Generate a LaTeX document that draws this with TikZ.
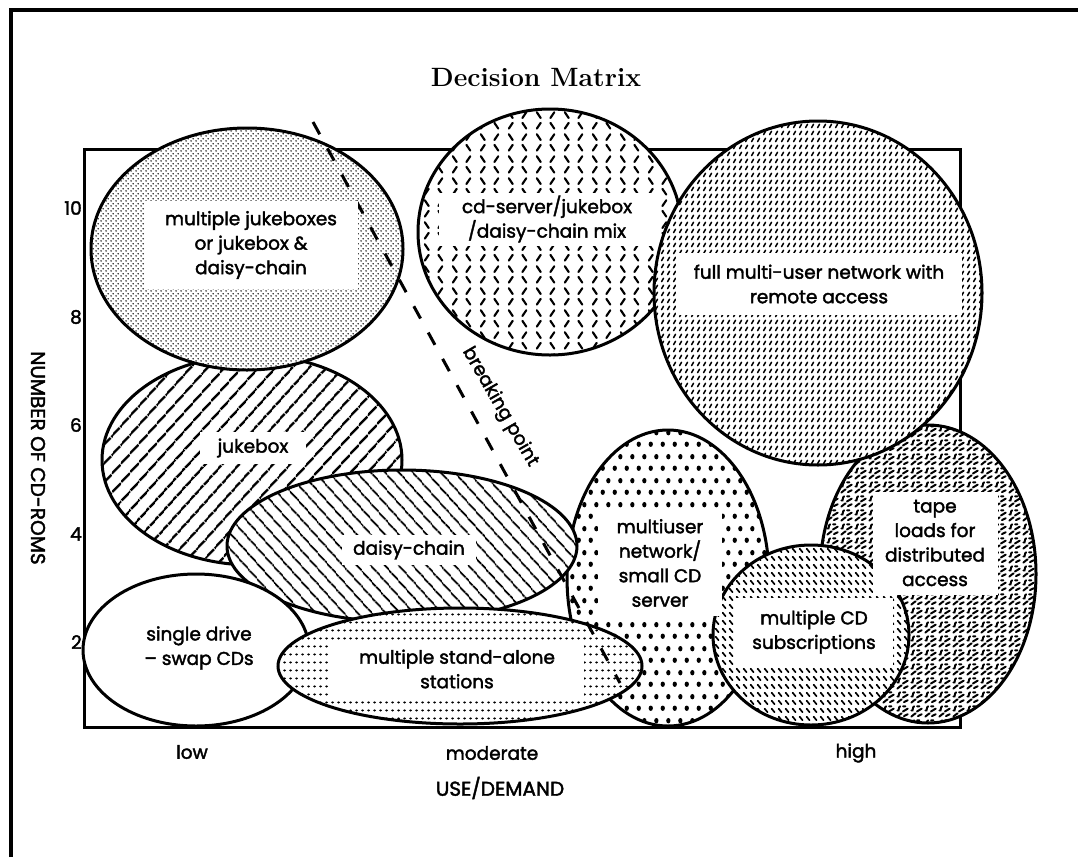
\documentclass[tikz,border=0pt]{standalone}
\usepackage{fontspec}
\newfontfamily\labfont{Poppins}[FakeBold=2]
\usetikzlibrary{patterns,patterns.meta,shapes.geometric}
\newcommand\lab{\labfont\fontsize{18.5}{24.5}\selectfont}
\newcommand\axlab{\labfont\fontsize{20}{24}\selectfont}

\pgfdeclarepatternformonly{stipple}{\pgfpointorigin}{\pgfpoint{5pt}{5pt}}{\pgfpoint{5pt}{5pt}}{%
  \pgfpathcircle{\pgfpoint{1.25pt}{1.25pt}}{0.9pt}%
  \pgfpathcircle{\pgfpoint{3.75pt}{3.75pt}}{0.9pt}%
  \pgfusepath{fill}}
\pgfdeclarepatternformonly{chevron}{\pgfpointorigin}{\pgfpoint{28pt}{22pt}}{\pgfpoint{28pt}{22pt}}{%
  \pgfsetlinewidth{2.2pt}\pgfsetroundcap
  \pgfpathmoveto{\pgfpoint{5pt}{2.5pt}}\pgfpathlineto{\pgfpoint{9pt}{8.5pt}}%
  \pgfpathmoveto{\pgfpoint{19pt}{8.5pt}}\pgfpathlineto{\pgfpoint{23pt}{2.5pt}}%
  \pgfpathmoveto{\pgfpoint{5pt}{19.5pt}}\pgfpathlineto{\pgfpoint{9pt}{13.5pt}}%
  \pgfpathmoveto{\pgfpoint{19pt}{13.5pt}}\pgfpathlineto{\pgfpoint{23pt}{19.5pt}}%
  \pgfusepath{stroke}}
\pgfdeclarepatternformonly{slashes}{\pgfpointorigin}{\pgfpoint{6pt}{7pt}}{\pgfpoint{6pt}{7pt}}{%
  \pgfsetlinewidth{1.75pt}\pgfsetroundcap
  \pgfpathmoveto{\pgfpoint{1.9pt}{1.6pt}}\pgfpathlineto{\pgfpoint{4.1pt}{5.4pt}}%
  \pgfusepath{stroke}}
\pgfdeclarepatternformonly{backslashes}{\pgfpointorigin}{\pgfpoint{7pt}{8pt}}{\pgfpoint{7pt}{8pt}}{%
  \pgfsetlinewidth{1.9pt}\pgfsetroundcap
  \pgfpathmoveto{\pgfpoint{1.8pt}{6pt}}\pgfpathlineto{\pgfpoint{5.2pt}{2pt}}%
  \pgfusepath{stroke}}
\pgfdeclarepatternformonly{rowdots}{\pgfpointorigin}{\pgfpoint{6pt}{8pt}}{\pgfpoint{6pt}{8pt}}{%
  \pgfpathellipse{\pgfpoint{3pt}{4pt}}{\pgfpoint{1.7pt}{0pt}}{\pgfpoint{0pt}{1.3pt}}\pgfusepath{fill}}
\pgfdeclarepatternformonly{bigdots}{\pgfpointorigin}{\pgfpoint{12pt}{24pt}}{\pgfpoint{12pt}{24pt}}{%
  \pgfpathellipse{\pgfpoint{3pt}{6pt}}{\pgfpoint{2.3pt}{0pt}}{\pgfpoint{0pt}{2.8pt}}%
  \pgfpathellipse{\pgfpoint{9pt}{18pt}}{\pgfpoint{2.3pt}{0pt}}{\pgfpoint{0pt}{2.8pt}}%
  \pgfusepath{fill}}
\pgfdeclarepatternformonly{worms}{\pgfpointorigin}{\pgfpoint{14pt}{14pt}}{\pgfpoint{14pt}{14pt}}{%
  \pgfsetlinewidth{2.1pt}\pgfsetroundcap
  \pgfpathmoveto{\pgfpoint{1.5pt}{1.5pt}}\pgfpathcurveto{\pgfpoint{3pt}{5pt}}{\pgfpoint{4.5pt}{2pt}}{\pgfpoint{6pt}{5pt}}%
  \pgfpathmoveto{\pgfpoint{8.5pt}{2pt}}\pgfpathcurveto{\pgfpoint{10.5pt}{1.2pt}}{\pgfpoint{10.5pt}{5pt}}{\pgfpoint{12.5pt}{4pt}}%
  \pgfpathmoveto{\pgfpoint{1.5pt}{8pt}}\pgfpathcurveto{\pgfpoint{4pt}{7pt}}{\pgfpoint{2pt}{11.5pt}}{\pgfpoint{4.5pt}{12.5pt}}%
  \pgfpathmoveto{\pgfpoint{7.5pt}{7pt}}\pgfpathcurveto{\pgfpoint{9pt}{10pt}}{\pgfpoint{11pt}{7pt}}{\pgfpoint{12.5pt}{10pt}}%
  \pgfpathmoveto{\pgfpoint{7.5pt}{12.5pt}}\pgfpathlineto{\pgfpoint{10pt}{12.5pt}}%
  \pgfusepath{stroke}}

\tikzset{
  blob/.style={ellipse, draw, line width=3pt, inner sep=0pt, outer sep=0pt, preaction={fill=white}},
  labbox/.style={fill=white, inner sep=0pt, align=center, font=\lab},
  lab/.style={font=\lab, align=center, inner sep=0pt},
  axis/.style={font=\axlab, align=center, inner sep=0pt},
  tick/.style={font=\lab, anchor=east, inner sep=0pt},
}

\begin{document}
\begin{tikzpicture}[x=1pt,y=-1pt]
\useasboundingbox (0,0) rectangle (1078,857);
% page frame
\draw[line width=4pt] (11,857) -- (11,10) -- (1078,10);
% title
\node[font=\bfseries\fontsize{26.5}{30}\selectfont, inner sep=0pt] (title) at (536,77) {Decision Matrix};
% plot area
\node[draw, line width=3pt, minimum width=876pt, minimum height=578pt, inner sep=0pt] (plot) at (522,438) {};
% axis labels
\node[tick] (t10) at (82,208) {10};
\node[tick] (t8) at (82,317) {8};
\node[tick] (t6) at (82,425) {6};
\node[tick] (t4) at (82,534) {4};
\node[tick] (t2) at (82,642) {2};
\node[axis, rotate=-90] (ylab) at (38,458) {NUMBER OF CD-ROMS};
\node[lab] (xlow) at (192,752) {low};
\node[lab] (xmod) at (492,753) {moderate};
\node[lab] (xhigh) at (856,753) {high};
\node[axis] (xlab) at (500,788) {USE/DEMAND};
% ellipses
\node[blob, pattern={Lines[angle=48,distance=13pt,line width=2.4pt]}, minimum width=300pt, minimum height=210pt] (jb) at (252,460) {};
\node[blob, pattern=stipple, minimum width=312pt, minimum height=242pt] (mj) at (247,249) {};
\node[blob, pattern=chevron, minimum width=264pt, minimum height=246pt] (cd) at (550,232) {};
\node[blob, pattern=worms, minimum width=216pt, minimum height=298pt] (tp) at (928,574) {};
\node[blob, pattern=slashes, minimum width=328pt, minimum height=344pt] (fn) at (818,293) {};
\node[blob, pattern=bigdots, minimum width=202pt, minimum height=296pt] (mu) at (668,578) {};
\node[blob, pattern={Lines[angle=-48,distance=10.5pt,line width=2pt]}, minimum width=350pt, minimum height=152pt] (dc) at (402,546) {};
\node[blob, minimum width=226pt, minimum height=152pt] (sd) at (196,650) {};
\node[blob, pattern=rowdots, minimum width=364pt, minimum height=116pt] (sa) at (460,666) {};
\node[blob, pattern=backslashes, minimum width=196pt, minimum height=180pt] (cs) at (811,635) {};
% breaking point
\coordinate (bp1) at (313,122);
\coordinate (bp2) at (620,683);
\draw[line width=3pt, dash pattern=on 14pt off 16pt] (bp1) -- (bp2);
\node[lab, rotate=-60] (bptext) at (500,407) {breaking point};
% text boxes
\node[labbox, minimum width=213pt, minimum height=88pt] (mjtext) at (251,245) {multiple jukeboxes\\or jukebox \&\\daisy-chain};
\node[labbox, minimum width=217pt, minimum height=53pt] (cdtext) at (547,219) {cd-server/jukebox\\/daisy-chain mix};
\node[labbox, minimum width=286pt, minimum height=62pt] (fntext) at (819,284) {full multi-user network with\\remote access};
\node[labbox, minimum width=106pt, minimum height=32pt] (jbtext) at (253,448) {jukebox};
\node[labbox, minimum width=134pt, minimum height=30pt] (dctext) at (409,550) {daisy-chain};
\node[lab] (sdtext) at (199,648) {single drive\\– swap CDs};
\node[labbox, minimum width=254pt, minimum height=59pt] (satext) at (457,669) {multiple stand-alone\\stations};
\node[labbox, minimum width=124pt, minimum height=105pt] (mutext) at (660,563) {multiuser\\network/\\small CD\\server};
\node[labbox, minimum width=158pt, minimum height=68pt] (cstext) at (814,632) {multiple CD\\subscriptions};
\node[labbox, minimum width=125pt, minimum height=103pt] (tptext) at (935,543) {tape\\loads for\\distributed\\access};
\end{tikzpicture}
\end{document}
